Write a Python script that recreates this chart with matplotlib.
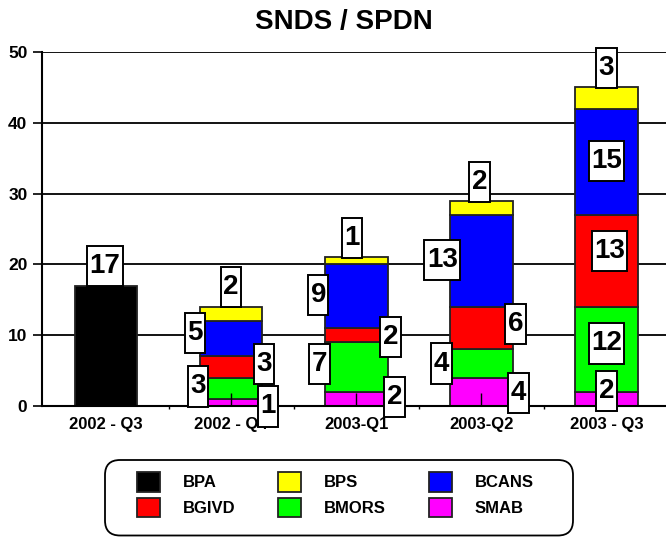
import matplotlib.pyplot as plt
from matplotlib.patches import FancyBboxPatch
from matplotlib.path import Path
import numpy as np

quarters = ["2002 - Q3", "2002 - Q4", "2003-Q1", "2003-Q2", "2003 - Q3"]

# stacked from bottom to top
smab = [0, 1, 2, 4, 2]
bmors = [0, 3, 7, 4, 12]
bgivd = [0, 3, 2, 6, 13]
bcans = [0, 5, 9, 13, 15]
bps = [0, 2, 1, 2, 3]
bpa = [17, 0, 0, 0, 0]

series = [
    ("SMAB", smab, "#ff00ff"),
    ("BMORS", bmors, "#00ff00"),
    ("BGIVD", bgivd, "#ff0000"),
    ("BCANS", bcans, "#0000ff"),
    ("BPS", bps, "#ffff00"),
    ("BPA", bpa, "#000000"),
]

# label box nudges in pixels (dx, dy) from the middle of each segment
nudges = {
    "SMAB": [None, (37, -4), (38, 2), (37, -1), (0, 8)],
    "BMORS": [None, (-33, 2), (-37, 3), (-40, 0), (0, 6)],
    "BGIVD": [None, (33, 3), (34, -2), (34, 4), (3, 10)],
    "BCANS": [None, (-36, 6), (-38, 1), (-39, 1), (0, 1)],
    "BPS": [None, (0, 27), (-4, 23), (-2, 26), (0, 30)],
    "BPA": [(-1, 80), None, None, None, None],
}


def tall_box(x0, y0, width, height, mutation_size):
    # narrow horizontal padding, taller vertical padding
    px = 0.09 * mutation_size
    py = 0.26 * mutation_size
    x0, x1 = x0 - px, x0 + width + px
    y0, y1 = y0 - py, y0 + height + py
    return Path([(x0, y0), (x1, y0), (x1, y1), (x0, y1), (x0, y0)], closed=True)


plt.rcParams["font.family"] = ["Liberation Sans", "DejaVu Sans"]

fig = plt.figure(figsize=(6.66, 5.37), dpi=100)
ax = fig.add_axes([42 / 666, 1 - 406 / 537, 624 / 666, 354 / 537])

x = np.arange(len(quarters))
bottom = np.zeros(len(quarters))
bars = {}
for name, vals, color in series:
    vals = np.array(vals, dtype=float)
    idx = np.nonzero(vals)[0]
    bars[name] = ax.bar(x[idx], vals[idx], 0.5, bottom=bottom[idx], color=color,
                        edgecolor="#222222", linewidth=1.3, zorder=1, label=name)
    for i in idx:
        mid = bottom[i] + vals[i] / 2
        dx, dy = nudges[name][i]
        ax.annotate(str(int(vals[i])), xy=(x[i], mid), xytext=(dx, dy),
                    textcoords="offset pixels", ha="center", va="center",
                    fontsize=20, fontweight="bold", zorder=5,
                    bbox=dict(boxstyle=tall_box, fc="white", ec="black", lw=1.4))
    bottom = bottom + vals

ax.set_xlim(-0.512, 4.476)
ax.set_ylim(0, 50)
ax.set_yticks(np.arange(0, 51, 10))
for y in np.arange(10, 51, 10):
    ax.axhline(y, color="black", lw=1.3, zorder=0.5)

ax.set_xticks(x)
ax.set_xticklabels(quarters, fontsize=12, fontweight="bold")
ax.set_xticks(x[:-1] + 0.5, minor=True)
ax.tick_params(axis="x", which="major", direction="in", length=9.5, width=1, pad=8)
ax.tick_params(axis="x", which="minor", direction="out", length=2, width=1)
ax.tick_params(axis="y", direction="out", length=6.5, width=1.2, pad=4)
for lab in ax.get_yticklabels():
    lab.set_fontsize(12.5)
    lab.set_fontweight("bold")

for side in ["top", "right"]:
    ax.spines[side].set_visible(False)
ax.spines["left"].set_linewidth(1.5)
ax.spines["bottom"].set_linewidth(1.5)

fig.text(344 / 666, 1 - 22 / 537, "SNDS / SPDN", ha="center", va="center",
         fontsize=20, fontweight="heavy")

# legend frame
frame = FancyBboxPatch((1.05, 0.015), 4.68, 0.755,
                       boxstyle="round,pad=0,rounding_size=0.15",
                       transform=fig.dpi_scale_trans, fc="white", ec="black", lw=1.3)
fig.patches.append(frame)

order = ["BPA", "BGIVD", "BPS", "BMORS", "BCANS", "SMAB"]
fig.legend([bars[n] for n in order], order, ncol=3, loc="upper left",
           bbox_to_anchor=(137 / 666, 1 - 472 / 537), frameon=False,
           borderpad=0, borderaxespad=0, handlelength=1.38, handleheight=1.44,
           handletextpad=1.38, labelspacing=0.36, columnspacing=2.55,
           prop={"size": 12, "weight": "bold"})

fig.savefig("out.png", dpi=100)
